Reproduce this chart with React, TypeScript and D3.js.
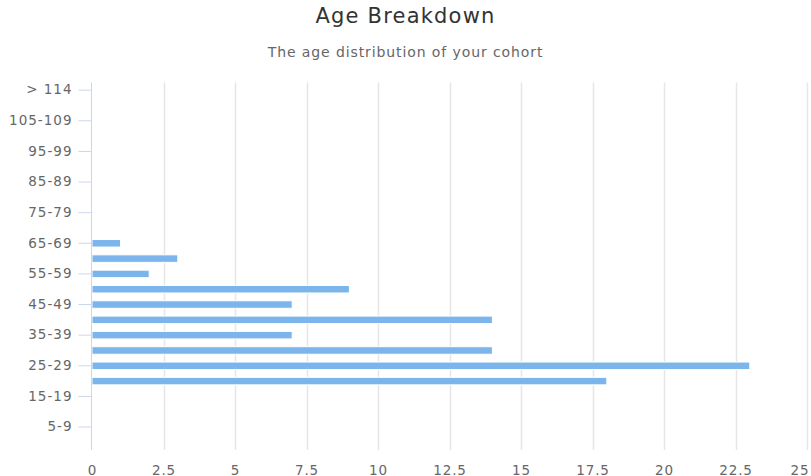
import React, { useEffect, useRef } from "react";
import { select, scaleBand, scaleLinear, axisBottom, axisLeft } from "d3";

const categories = [
  "0-4", "5-9", "10-14", "15-19", "20-24", "25-29", "30-34", "35-39",
  "40-44", "45-49", "50-54", "55-59", "60-64", "65-69", "70-74", "75-79",
  "80-84", "85-89", "90-94", "95-99", "100-104", "105-109", "110-114", "> 114"
];
const counts = [
  0, 0, 0, 0, 18, 23, 14, 7,
  14, 7, 9, 2, 3, 1, 0, 0,
  0, 0, 0, 0, 0, 0, 0, 0
];
const xTicks = [0, 2.5, 5, 7.5, 10, 12.5, 15, 17.5, 20, 22.5, 25];

const W = 811;
const H = 476;
const FONT = "'DejaVu Sans', Verdana, sans-serif";

export default function App() {
  const svgRef = useRef<SVGSVGElement>(null);

  useEffect(() => {
    const svg = select(svgRef.current);
    svg.selectAll("*").remove();

    const left = 92, right = 807, top = 82.5, bottom = 450;

    const x = scaleLinear().domain([0, 25]).range([left, right]);
    const y = scaleBand().domain(categories).range([bottom, top]).padding(0);

    // title
    svg.append("text")
      .attr("x", W / 2).attr("y", 22.5)
      .attr("text-anchor", "middle")
      .attr("font-family", FONT).attr("font-size", 21)
      .attr("letter-spacing", 1.2)
      .attr("fill", "#333333")
      .text("Age Breakdown");
    svg.append("text")
      .attr("x", W / 2).attr("y", 57)
      .attr("text-anchor", "middle")
      .attr("font-family", FONT).attr("font-size", 14)
      .attr("letter-spacing", 0.9)
      .attr("fill", "#666666")
      .text("The age distribution of your cohort");

    // grid
    svg.append("g")
      .selectAll("line")
      .data(xTicks.slice(1))
      .join("line")
      .attr("x1", (d) => Math.round(x(d)) + 0.5)
      .attr("x2", (d) => Math.round(x(d)) + 0.5)
      .attr("y1", top).attr("y2", bottom)
      .attr("stroke", "#e6e6e6").attr("stroke-width", 1.5);

    // bars
    const barH = 7.5;
    svg.append("g")
      .selectAll("rect")
      .data(counts.map((v, i) => ({ name: categories[i], v })).filter((d) => d.v > 0))
      .join("rect")
      .attr("x", x(0))
      .attr("y", (d) => (y(d.name) as number) + y.bandwidth() / 2 - barH / 2)
      .attr("width", (d) => x(d.v) - x(0))
      .attr("height", barH)
      .attr("fill", "#7cb5ec")
      .attr("stroke", "#ffffff").attr("stroke-width", 1);

    // x axis (labels only)
    const xAxis = svg.append("g")
      .attr("transform", `translate(0, ${bottom})`)
      .call(axisBottom(x).tickValues(xTicks).tickSize(0).tickFormat((d) => String(d)));
    xAxis.select(".domain").remove();
    xAxis.selectAll<SVGTextElement, number>("text")
      .attr("y", 25).attr("dy", 0)
      .attr("font-family", FONT).attr("font-size", 13.5)
      .attr("fill", "#666666").attr("letter-spacing", 0.9)
      .attr("text-anchor", (d) => (d === 25 ? "end" : "middle"))
      .attr("dx", (d) => (d === 25 ? 2 : 0));

    // y axis
    const yAxis = svg.append("g")
      .attr("transform", `translate(${left - 0.5}, 0)`)
      .call(
        axisLeft(y)
          .tickValues(categories.filter((_, i) => i % 2 === 1))
          .tickSize(13).tickPadding(6)
      );
    yAxis.select(".domain")
      .attr("d", `M0,${top}V${bottom}`)
      .attr("stroke", "#ccd6eb");
    yAxis.selectAll(".tick line").attr("stroke", "#ccd6eb");
    yAxis.selectAll("text")
      .attr("font-family", FONT).attr("font-size", 13.5)
      .attr("fill", "#666666").attr("letter-spacing", 1);
  }, []);

  return (
    <svg
      ref={svgRef}
      width={W}
      height={H}
      style={{ position: "absolute", left: 0, top: 0, background: "#ffffff" }}
    />
  );
}
